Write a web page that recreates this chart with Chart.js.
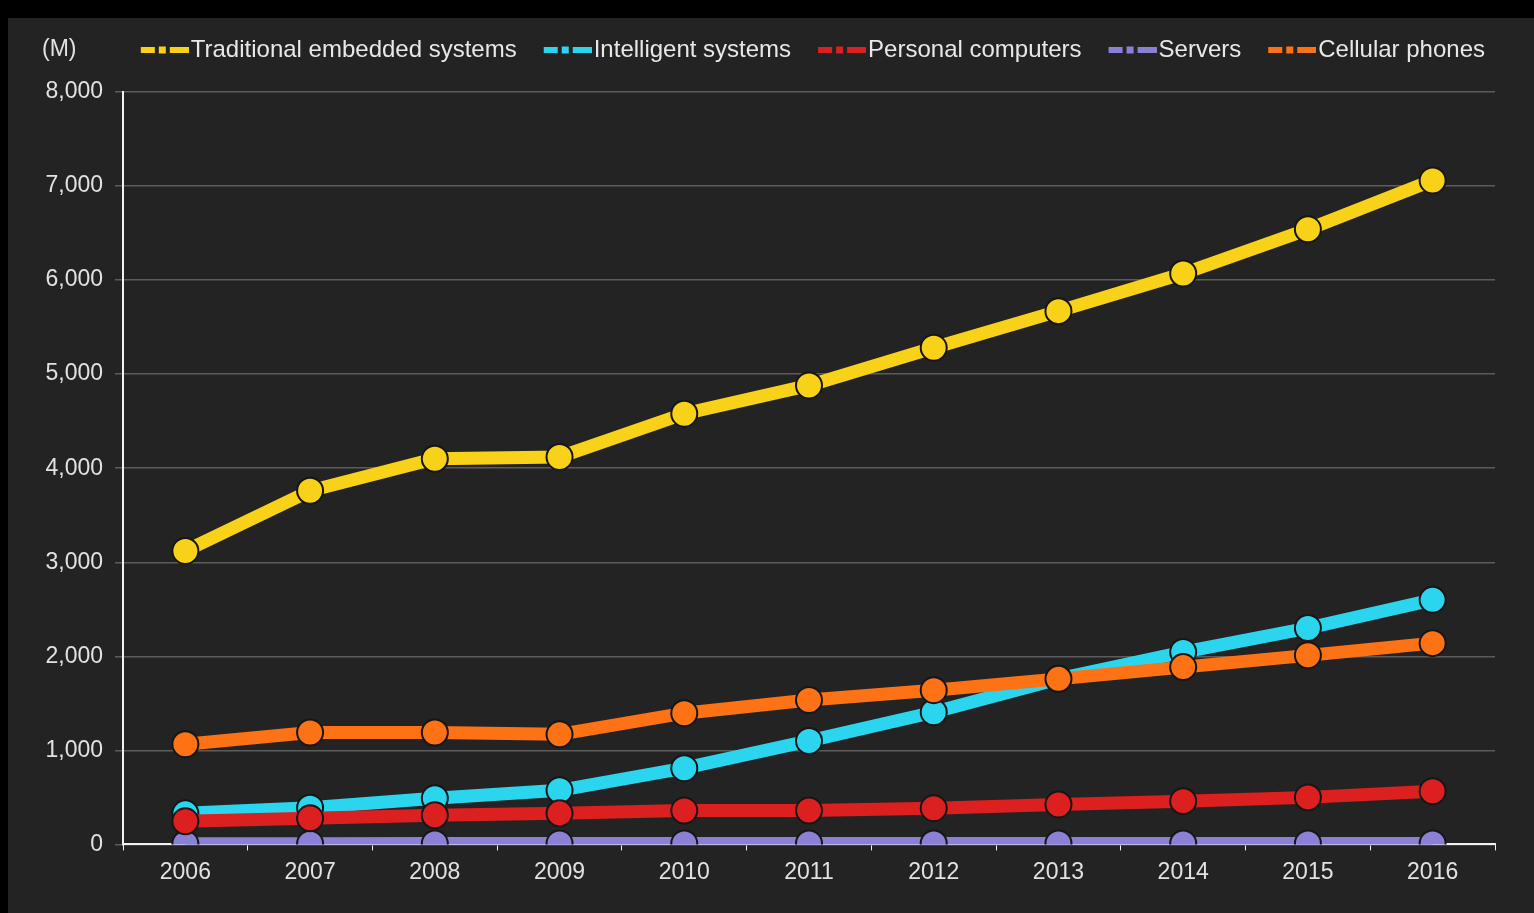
<!DOCTYPE html>
<html>
<head>
<meta charset="utf-8">
<script src="https://cdn.jsdelivr.net/npm/chart.js@4/dist/chart.umd.min.js"></script>
<style>
  html, body { margin: 0; padding: 0; background: #000; }
  #wrap { position: absolute; left: 8px; top: 18px; width: 1526px; height: 895px; background: #232323; }
</style>
</head>
<body>
<div id="wrap"><canvas id="grafico"></canvas></div>
<script>
// dados (milhoes de unidades)
const anos = ["2006", "2007", "2008", "2009", "2010", "2011", "2012", "2013", "2014", "2015", "2016"];
const embarcados   = [3120, 3760, 4100, 4120, 4580, 4880, 5280, 5670, 6070, 6540, 7060];
const inteligentes = [330, 390, 490, 575, 810, 1100, 1405, 1760, 2045, 2300, 2600];
const computadores = [245, 277, 310, 330, 360, 360, 385, 425, 460, 500, 565];
const servidores   = [8, 8, 9, 9, 9, 10, 10, 10, 10, 10, 10];
const celulares    = [1065, 1190, 1190, 1170, 1395, 1535, 1640, 1760, 1885, 2010, 2140];
const nomes = ["Traditional embedded systems", "Intelligent systems", "Personal computers", "Servers", "Cellular phones"];
const cores = ["#f8d119", "#2bd5ee", "#dc1f1f", "#8a80d6", "#fd7215"];

const fonte = "'Liberation Sans', Arial, sans-serif";

// marcador da legenda: traco - ponto - traco (a parte visivel fica a direita do canvas)
function criarMarcador(cor) {
  const c = document.createElement("canvas");
  c.width = 75; c.height = 10;
  const ctx = c.getContext("2d");
  ctx.fillStyle = cor;
  ctx.fillRect(27, 2, 14, 6);
  ctx.fillRect(45, 1.5, 7, 7);
  ctx.fillRect(56, 2, 19, 6);
  return c;
}
const marcadores = cores.map(criarMarcador);

function serie(i, dados, ordem) {
  return {
    label: nomes[i],
    data: dados,
    order: ordem,
    borderColor: cores[i],
    backgroundColor: cores[i],
    borderWidth: 13,
    tension: 0,
    pointRadius: 13,
    pointBorderWidth: 2,
    pointBorderColor: "#161616",
    pointBackgroundColor: cores[i]
  };
}

// "(M)" no canto superior esquerdo
const unidadePlugin = {
  id: "unidade",
  afterDraw(chart) {
    const ctx = chart.ctx;
    const box = chart.legend.legendHitBoxes[0];
    ctx.save();
    ctx.font = "23px " + fonte;
    ctx.fillStyle = "#e2e2e2";
    ctx.textBaseline = "middle";
    ctx.fillText("(M)", chart.chartArea.left - 81, box.top + box.height / 2);
    ctx.restore();
  }
};

new Chart(document.getElementById("grafico"), {
  type: "line",
  data: {
    labels: anos,
    datasets: [
      serie(0, embarcados, 1),
      serie(1, inteligentes, 3),
      serie(2, computadores, 2),
      serie(3, servidores, 4),
      serie(4, celulares, 0)
    ]
  },
  options: {
    responsive: true,
    maintainAspectRatio: false,
    animation: false,
    layout: { padding: { left: 0, right: 39, top: 10, bottom: 19 } },
    plugins: {
      tooltip: { enabled: false },
      // espaco vazio entre a legenda e o grafico
      title: { display: true, text: "", weight: 500, font: { size: 10 }, padding: 4 },
      legend: {
        position: "top",
        align: "end",
        labels: {
          color: "#e8e8e8",
          font: { family: fonte, size: 24 },
          usePointStyle: true,
          pointStyleWidth: 55,
          padding: 10,
          sort: (a, b) => a.datasetIndex - b.datasetIndex,
          generateLabels(chart) {
            const itens = Chart.defaults.plugins.legend.labels.generateLabels(chart);
            itens.forEach(it => { it.pointStyle = marcadores[it.datasetIndex]; });
            return itens;
          }
        }
      }
    },
    scales: {
      x: {
        offset: true,
        border: { color: "#f2f2f2", width: 2 },
        grid: { offset: true, drawOnChartArea: false, color: "#f2f2f2", tickLength: 6 },
        ticks: { color: "#e2e2e2", font: { family: fonte, size: 23 }, padding: 8 }
      },
      y: {
        min: 0,
        max: 8000,
        afterFit(scale) { scale.width = 115; },
        border: { color: "#f2f2f2", width: 2 },
        grid: { color: "#5c5c5c", lineWidth: 1.5, tickLength: 8 },
        ticks: {
          stepSize: 1000,
          color: "#e2e2e2",
          font: { family: fonte, size: 23 },
          padding: 12,
          callback: v => v.toLocaleString("en-US")
        }
      }
    }
  },
  plugins: [unidadePlugin]
});
</script>
</body>
</html>
